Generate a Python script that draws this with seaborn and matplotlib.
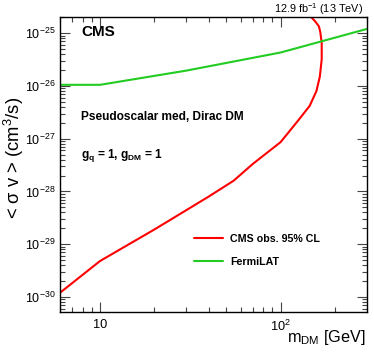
import matplotlib

matplotlib.use("Agg")

import matplotlib.pyplot as plt
import matplotlib.ticker as mticker
import pandas as pd
import seaborn as sns

# CMS observed 95% CL limit (traced as a path, so not sorted by mass)
CMS_MASS = [6, 10, 20, 30, 40, 55, 70, 100, 125, 145, 158, 165, 169, 169, 166, 163, 155, 146]
CMS_SIGV = [1.2e-30, 4.8e-30, 1.9e-29, 4.4e-29, 8.0e-29, 1.6e-28, 3.3e-28, 8.6e-28,
            2.2e-27, 4.2e-27, 8.0e-27, 1.5e-26, 3.2e-26, 6.5e-26, 1.05e-25, 1.35e-25,
            1.7e-25, 2.1e-25]

FERMI_MASS = [6, 10, 30, 100, 300]
FERMI_SIGV = [1.05e-26, 1.05e-26, 1.95e-26, 4.3e-26, 1.2e-25]

X_TICKS = [10, 100]
X_TICK_LABELS = ["10", r"$10^{2}$"]
Y_TICKS = [1e-30, 1e-29, 1e-28, 1e-27, 1e-26, 1e-25]
Y_TICK_LABELS = [r"$10^{-30}$", r"$10^{-29}$", r"$10^{-28}$", r"$10^{-27}$",
                 r"$10^{-26}$", r"$10^{-25}$"]

sns.set_theme(style="ticks")
plt.rcParams["font.family"] = ["Liberation Sans", "DejaVu Sans"]
plt.rcParams["mathtext.fontset"] = "custom"
plt.rcParams["mathtext.rm"] = "Liberation Sans"
plt.rcParams["mathtext.it"] = "Liberation Sans:italic"
plt.rcParams["mathtext.bf"] = "Liberation Sans:bold"
plt.rcParams["text.color"] = "black"
plt.rcParams["xtick.labelcolor"] = "black"
plt.rcParams["ytick.labelcolor"] = "black"

cms = pd.DataFrame({"mass": CMS_MASS, "sigv": CMS_SIGV})
fermi = pd.DataFrame({"mass": FERMI_MASS, "sigv": FERMI_SIGV})

W, H = 374, 359
fig = plt.figure(figsize=(W / 100, H / 100), dpi=100)
ax = fig.add_axes([60 / W, 1 - 311.7 / H, 306.7 / W, 294.4 / H])

sns.lineplot(data=cms, x="mass", y="sigv", sort=False, estimator=None,
             color="#ff0000", linewidth=1.5, label="CMS obs. 95% CL", ax=ax)
sns.lineplot(data=fermi, x="mass", y="sigv", sort=False, estimator=None,
             color="#22cc22", linewidth=1.5, label="FermiLAT", ax=ax)

ax.set_xscale("log")
ax.set_yscale("log")
ax.set_xlim(6, 300)
ax.set_ylim(5.25e-31, 2.0e-25)

ax.set_xticks(X_TICKS)
ax.set_xticklabels(X_TICK_LABELS)
ax.set_yticks(Y_TICKS)
ax.set_yticklabels(Y_TICK_LABELS)
ax.xaxis.set_minor_locator(mticker.LogLocator(base=10, subs=range(2, 10), numticks=20))
ax.yaxis.set_minor_locator(mticker.LogLocator(base=10, subs=range(2, 10), numticks=20))
ax.xaxis.set_minor_formatter(mticker.NullFormatter())
ax.yaxis.set_minor_formatter(mticker.NullFormatter())

ax.tick_params(which="both", direction="in", top=True, right=True, color="#444444",
               labelcolor="black", width=0.8)
ax.tick_params(which="major", length=7)
ax.tick_params(which="minor", length=3.5)
ax.tick_params(axis="x", pad=5, labelsize=9.2)
ax.tick_params(axis="y", pad=3, labelsize=9)
for sp in ax.spines.values():
    sp.set_color("black")
    sp.set_linewidth(1.0)

ax.set_xlabel("")
ax.set_ylabel("")
fig.text(366 / W, 1 - 342 / H, r"m$_{\mathrm{DM}}$ [GeV]", fontsize=11.7,
         ha="right", va="baseline")
fig.text(14 / W, 1 - 158 / H, r"< σ v > (cm$^{3}$/s)", fontsize=13.2,
         rotation=90, ha="center", va="center")

ax.text(0.07, 0.951, "CMS", transform=ax.transAxes, fontsize=11, fontweight="bold",
        va="center")
fig.text(363 / W, 1 - 13.3 / H, r"12.9 fb$^{-1}$ (13 TeV)", fontsize=7.8,
         ha="right", va="baseline")
ax.text(0.07, 0.66, "Pseudoscalar med, Dirac DM", transform=ax.transAxes, fontsize=8.6,
        fontweight="bold", va="center")
ax.text(0.07, 0.532, r"g$_{\mathbf{q}}$ = 1, g$_{\mathbf{DM}}$ = 1", transform=ax.transAxes,
        fontsize=8.6, fontweight="bold", va="center")

leg = ax.legend(loc="upper left", bbox_to_anchor=(0.42, 0.282), frameon=False,
                fontsize=7.7, handlelength=2.7, handletextpad=0.65, labelspacing=1.2,
                borderpad=0)
for t in leg.get_texts():
    t.set_fontweight("bold")
    t.set_color("black")

fig.savefig("out.png", dpi=100)
plt.close(fig)
